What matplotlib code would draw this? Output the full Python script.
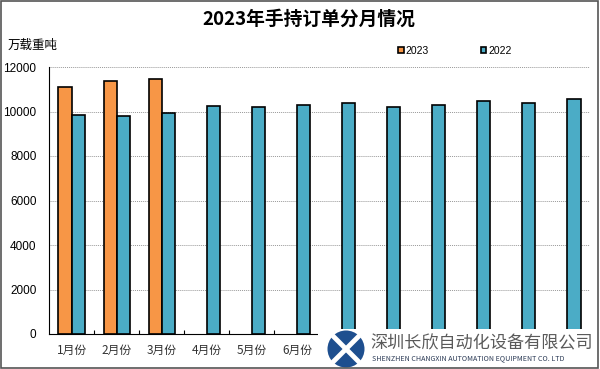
import numpy as np
import matplotlib.pyplot as plt
from matplotlib.patches import Rectangle, Ellipse

plt.rcParams['font.family'] = ['Noto Sans CJK SC', 'DejaVu Sans']

# monthly order book, 10k DWT
months = ["1月份", "2月份", "3月份", "4月份", "5月份", "6月份",
          "7月份", "8月份", "9月份", "10月份", "11月份", "12月份"]
orders_2023 = [11120, 11390, 11470]
orders_2022 = [9850, 9790, 9940, 10230, 10200, 10280,
               10360, 10200, 10270, 10450, 10360, 10550]
y_ticks = [0, 2000, 4000, 6000, 8000, 10000, 12000]

c23 = "#F79646"
c22 = "#4BACC6"

fig = plt.figure(figsize=(6.0, 3.69), dpi=100)
ax = fig.add_axes([49 / 600, 1 - 334 / 369, 541 / 600, 267 / 369])

w = 0.29
x = np.arange(len(months))
ax.bar(x[:len(orders_2023)] - w / 2, orders_2023, width=w, color=c23,
       edgecolor="black", linewidth=1.2, label="2023", zorder=3)
ax.bar(x + w / 2, orders_2022, width=w, color=c22,
       edgecolor="black", linewidth=1.2, label="2022", zorder=3)

ax.set_xlim(-0.5, len(months) - 0.5)
ax.set_ylim(0, 12000)
ax.set_yticks(y_ticks)
ax.set_yticklabels([str(v) for v in y_ticks], fontsize=8.5, family="Liberation Sans")
ax.yaxis.grid(True, linestyle=(0, (1, 1)), color="#999999", linewidth=0.7, zorder=0)
ax.tick_params(axis="y", length=0, pad=9)

ax.set_xticks(x)
ax.set_xticklabels(months, fontsize=8.5, color="#333333")
ax.set_xticks(np.arange(len(months) - 1) + 0.5, minor=True)
ax.tick_params(axis="x", which="major", length=0, pad=7)
ax.tick_params(axis="x", which="minor", direction="in", length=3, width=0.8)
# labels from July on sit under the company watermark
for lab in ax.get_xticklabels()[6:]:
    lab.set_visible(False)

for s in ["top", "right"]:
    ax.spines[s].set_visible(False)
ax.spines["left"].set_linewidth(0.8)
ax.spines["bottom"].set_linewidth(0.8)

fig.text(0.515, 1 - 19 / 369, "2023年手持订单分月情况", ha="center", va="center",
         fontsize=13.5, fontweight="bold")
fig.text(8 / 600, 1 - 45 / 369, "万载重吨", ha="left", va="center", fontsize=9)

ax.legend(loc="center", bbox_to_anchor=(455 / 600, 1 - 51 / 369),
          bbox_transform=fig.transFigure, ncol=2, frameon=False,
          handlelength=0.5, handleheight=0.5, handletextpad=0.2,
          columnspacing=5.0, prop={"family": "Liberation Sans", "size": 7.5})

# company watermark, lower right
fig.patches.append(Rectangle((318 / 600, 0.005), 280 / 600, 38 / 369,
                             transform=fig.transFigure, facecolor="white",
                             edgecolor="none", zorder=5))
fig.patches.append(Ellipse((346 / 600, 1 - 349 / 369), 37 / 600, 37 / 369,
                           transform=fig.transFigure, facecolor="#1E4F8F",
                           edgecolor="none", zorder=6))
fig.lines.append(plt.Line2D([334 / 600, 358 / 600], [1 - 337 / 369, 1 - 361 / 369],
                            transform=fig.transFigure, color="white", lw=3.5, zorder=7))
fig.lines.append(plt.Line2D([334 / 600, 358 / 600], [1 - 361 / 369, 1 - 337 / 369],
                            transform=fig.transFigure, color="white", lw=3.5, zorder=7))
fig.text(370 / 600, 1 - 343 / 369, "深圳长欣自动化设备有限公司", ha="left", va="center",
         fontsize=12.3, color="#5A5A5A", zorder=8)
fig.text(372 / 600, 1 - 358 / 369, "SHENZHEN CHANGXIN AUTOMATION EQUIPMENT CO. LTD",
         ha="left", va="center", fontsize=5.1, color="#2B3A55", zorder=8)

# outer frame
fig.patches.append(Rectangle((0.001, 0.003), 0.995, 0.994, transform=fig.transFigure,
                             facecolor="none", edgecolor="#555555", linewidth=1.2, zorder=9))

fig.savefig("out.png", dpi=100)
